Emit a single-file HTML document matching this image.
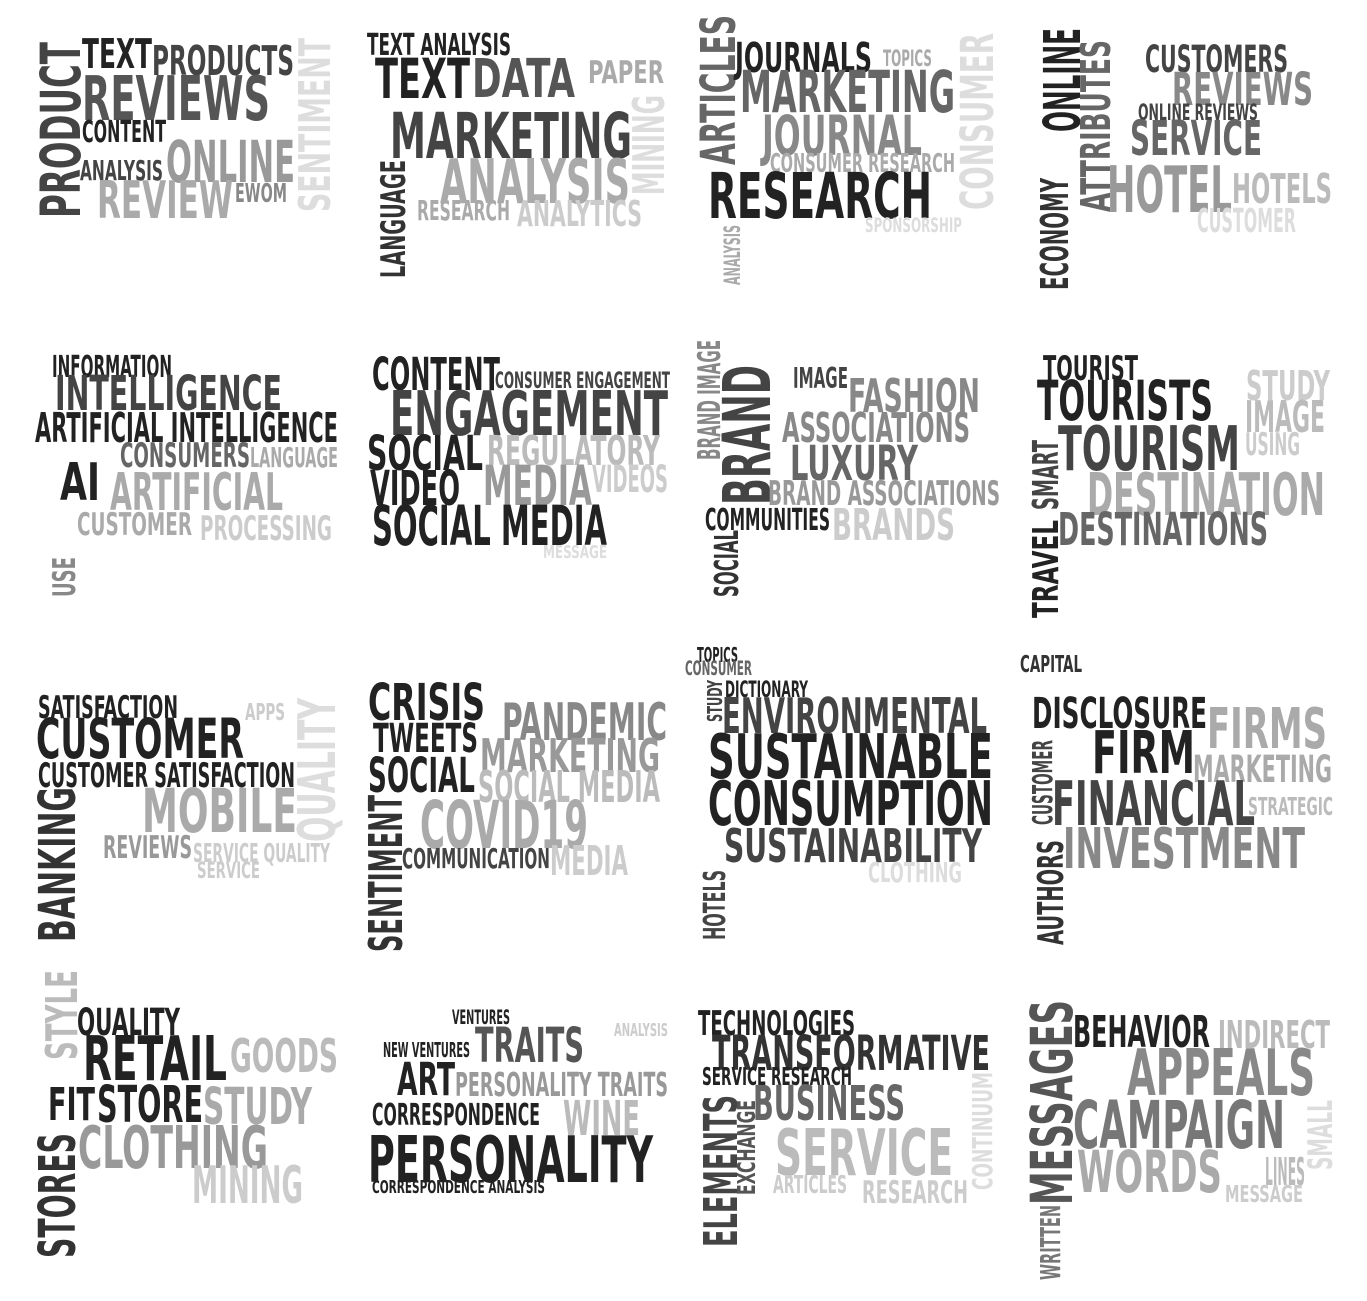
<!DOCTYPE html>
<html><head><meta charset="utf-8"><style>
html,body{margin:0;padding:0;background:#fff;}
#wc{position:absolute;left:0;top:0;}
text{font-family:"Liberation Sans Narrow","DejaVu Sans Condensed","Liberation Sans",sans-serif;font-weight:bold;}
</style></head><body>
<svg id="wc" width="1367" height="1301" viewBox="0 0 1367 1301" xmlns="http://www.w3.org/2000/svg"></svg>
<script>
// word, x1, x2, y1, y2, color, vertical
const words = [
["PRODUCT",40,80,42,218,"#444",1],["TEXT",82,152,38,68,"#222",0],["PRODUCTS",152,294,45,75,"#444",0],
["REVIEWS",82,270,75,120,"#555",0],["CONTENT",82,166,120,142,"#222",0],["ANALYSIS",80,163,160,180,"#444",0],
["ONLINE",166,295,140,182,"#999",0],["REVIEW",97,233,180,218,"#aaa",0],["EWOM",235,287,183,202,"#888",0],
["SENTIMENT",298,330,38,212,"#ddd",1],
["TEXT ANALYSIS",367,511,33,55,"#222",0],["TEXT",375,470,58,98,"#222",0],["DATA",472,575,58,97,"#555",0],
["PAPER",588,664,60,83,"#aaa",0],["MINING",632,664,95,195,"#ddd",1],["MARKETING",390,632,112,158,"#444",0],
["LANGUAGE",380,405,160,278,"#333",1],["ANALYSIS",440,630,158,203,"#aaa",0],["RESEARCH",417,510,200,220,"#aaa",0],
["ANALYTICS",517,642,200,226,"#ccc",0],
["ARTICLES",700,735,15,165,"#666",1],["JOURNALS",735,872,42,72,"#222",0],["TOPICS",883,932,50,66,"#aaa",0],
["CONSUMER",960,993,33,210,"#ddd",1],["MARKETING",740,955,70,112,"#666",0],["JOURNAL",762,922,115,155,"#888",0],
["CONSUMER RESEARCH",770,955,153,172,"#aaa",0],["RESEARCH",708,932,172,218,"#222",0],["SPONSORSHIP",865,962,218,232,"#ddd",0],
["ANALYSIS",724,740,225,285,"#aaa",1],
["ONLINE",1043,1080,28,132,"#222",1],["ATTRIBUTES",1080,1110,40,212,"#666",1],["CUSTOMERS",1145,1288,45,72,"#444",0],
["REVIEWS",1172,1313,72,105,"#888",0],["ONLINE REVIEWS",1138,1258,104,120,"#444",0],["SERVICE",1130,1262,120,155,"#666",0],
["ECONOMY",1040,1068,178,290,"#333",1],["HOTEL",1107,1232,165,212,"#999",0],["HOTELS",1232,1332,173,203,"#bbb",0],
["CUSTOMER",1197,1296,208,232,"#ddd",0],
["INFORMATION",52,172,355,377,"#222",0],["INTELLIGENCE",55,282,375,410,"#444",0],["ARTIFICIAL INTELLIGENCE",35,338,412,442,"#222",0],
["CONSUMERS",120,250,442,467,"#666",0],["LANGUAGE",250,338,447,467,"#aaa",0],["AI",60,100,462,500,"#222",0],
["ARTIFICIAL",110,283,472,510,"#aaa",0],["CUSTOMER",77,192,512,535,"#aaa",0],["PROCESSING",200,332,515,540,"#ccc",0],
["USE",52,75,557,597,"#888",1],
["CONTENT",372,500,357,390,"#222",0],["CONSUMER ENGAGEMENT",495,670,372,388,"#444",0],["ENGAGEMENT",390,668,390,435,"#444",0],
["SOCIAL",367,483,435,470,"#222",0],["REGULATORY",487,660,435,465,"#bbb",0],["VIDEO",370,460,470,505,"#222",0],
["MEDIA",483,592,465,505,"#999",0],["VIDEOS",592,668,465,492,"#ccc",0],["SOCIAL MEDIA",372,607,505,545,"#222",0],
["MESSAGE",543,607,545,558,"#ddd",0],
["BRAND IMAGE",697,720,340,460,"#888",1],["BRAND",722,770,365,505,"#444",1],["IMAGE",793,848,367,388,"#444",0],
["FASHION",848,980,378,412,"#888",0],["ASSOCIATIONS",782,970,412,442,"#888",0],["LUXURY",790,918,445,480,"#666",0],
["BRAND ASSOCIATIONS",768,1000,480,505,"#999",0],["COMMUNITIES",705,830,508,530,"#222",0],["BRANDS",832,955,508,540,"#ccc",0],
["SOCIAL",714,738,530,597,"#333",1],
["TOURIST",1043,1138,355,380,"#222",0],["TOURISTS",1037,1213,380,420,"#222",0],["STUDY",1246,1330,370,400,"#ccc",0],
["IMAGE",1245,1325,400,432,"#bbb",0],["TOURISM",1058,1240,425,470,"#444",0],["USING",1245,1300,432,455,"#ccc",0],
["SMART",1032,1058,440,510,"#444",1],["DESTINATION",1087,1325,472,515,"#aaa",0],["TRAVEL",1032,1058,520,618,"#222",1],
["DESTINATIONS",1058,1268,512,545,"#666",0],
["SATISFACTION",38,178,695,718,"#222",0],["APPS",245,285,703,720,"#ccc",0],["CUSTOMER",36,244,718,758,"#222",0],
["QUALITY",297,335,698,842,"#ddd",1],["CUSTOMER SATISFACTION",38,295,762,787,"#222",0],["BANKING",38,75,787,942,"#333",1],
["MOBILE",142,297,788,832,"#aaa",0],["REVIEWS",103,192,835,858,"#999",0],["SERVICE QUALITY",193,330,843,862,"#ccc",0],
["SERVICE",197,260,862,878,"#ccc",0],
["CRISIS",368,485,683,720,"#222",0],["PANDEMIC",502,667,702,740,"#888",0],["TWEETS",373,478,723,752,"#222",0],
["MARKETING",480,660,738,772,"#999",0],["SOCIAL",368,475,757,792,"#222",0],["SOCIAL MEDIA",478,660,770,802,"#bbb",0],
["SENTIMENT",368,402,795,952,"#333",1],["COVID19",420,588,800,848,"#aaa",0],["COMMUNICATION",402,550,848,868,"#444",0],
["MEDIA",550,628,845,875,"#ccc",0],
["TOPICS",697,738,647,662,"#222",0],["CONSUMER",685,752,661,675,"#666",0],["STUDY",707,722,680,722,"#444",1],
["DICTIONARY",725,808,681,697,"#222",0],["ENVIRONMENTAL",722,987,697,733,"#444",0],["SUSTAINABLE",708,993,733,778,"#222",0],
["CONSUMPTION",708,993,780,825,"#222",0],["SUSTAINABILITY",724,982,828,862,"#444",0],["CLOTHING",868,962,862,882,"#ddd",0],
["HOTELS",703,725,870,940,"#444",1],
["CAPITAL",1020,1082,655,672,"#333",0],["DISCLOSURE",1032,1207,697,728,"#222",0],["FIRMS",1207,1327,707,748,"#aaa",0],
["FIRM",1092,1195,730,773,"#222",0],["CUSTOMER",1032,1052,740,825,"#444",1],["MARKETING",1193,1332,755,782,"#aaa",0],
["FINANCIAL",1052,1255,780,825,"#444",0],["STRATEGIC",1248,1333,797,815,"#bbb",0],["AUTHORS",1037,1063,840,945,"#333",1],
["INVESTMENT",1063,1305,827,868,"#888",0],
["STYLE",45,77,970,1060,"#bbb",1],["QUALITY",77,180,1008,1035,"#222",0],["RETAIL",83,227,1035,1080,"#222",0],
["GOODS",230,338,1038,1072,"#bbb",0],["FIT",48,95,1087,1120,"#222",0],["STORE",97,203,1085,1122,"#222",0],
["STUDY",203,312,1087,1124,"#aaa",0],["STORES",38,75,1133,1258,"#333",1],["CLOTHING",78,268,1125,1168,"#999",0],
["MINING",192,303,1165,1203,"#ccc",0],
["VENTURES",452,510,1010,1024,"#222",0],["ANALYSIS",614,668,1023,1036,"#ccc",0],["NEW VENTURES",383,470,1042,1057,"#222",0],
["TRAITS",475,584,1027,1062,"#555",0],["ART",397,455,1062,1095,"#222",0],["PERSONALITY TRAITS",455,668,1072,1096,"#999",0],
["CORRESPONDENCE",372,540,1103,1125,"#222",0],["WINE",563,640,1100,1135,"#bbb",0],["PERSONALITY",368,653,1135,1182,"#222",0],
["CORRESPONDENCE ANALYSIS",372,545,1180,1193,"#222",0],
["TECHNOLOGIES",698,855,1010,1035,"#222",0],["TRANSFORMATIVE",712,990,1035,1070,"#333",0],["SERVICE RESEARCH",702,852,1067,1085,"#222",0],
["CONTINUUM",972,992,1072,1190,"#ddd",1],["BUSINESS",753,905,1085,1120,"#666",0],["ELEMENTS",703,737,1095,1247,"#444",1],
["EXCHANGE",737,755,1100,1195,"#555",1],["SERVICE",775,953,1128,1175,"#bbb",0],["ARTICLES",773,847,1175,1193,"#ccc",0],
["RESEARCH",862,968,1180,1203,"#ccc",0],
["MESSAGES",1030,1072,1000,1205,"#555",1],["BEHAVIOR",1073,1210,1015,1047,"#222",0],["INDIRECT",1218,1330,1020,1048,"#bbb",0],
["APPEALS",1127,1315,1048,1095,"#888",0],["SMALL",1307,1332,1100,1170,"#ddd",1],["CAMPAIGN",1073,1285,1100,1148,"#777",0],
["WORDS",1077,1222,1150,1192,"#aaa",0],["LINES",1265,1305,1157,1185,"#bbb",0],["MESSAGE",1225,1303,1185,1202,"#ccc",0],
["WRITTEN",1040,1060,1205,1280,"#777",1]
];
const NS="http://www.w3.org/2000/svg";
const svg=document.getElementById('wc');
const CAP=0.73;
words.forEach(w=>{
  const [s,x1,x2,y1,y2,c,v]=w;
  const t=document.createElementNS(NS,'text');
  t.textContent=s;
  t.setAttribute('fill',c);
  t.setAttribute('lengthAdjust','spacingAndGlyphs');
  if(!v){
    t.setAttribute('x',x1);t.setAttribute('y',y2);
    t.setAttribute('font-size',((y2-y1)/CAP).toFixed(1));
    t.setAttribute('textLength',x2-x1);
  }else{
    t.setAttribute('transform','translate('+x2+','+y2+') rotate(-90)');
    t.setAttribute('x',0);t.setAttribute('y',0);
    t.setAttribute('font-size',((x2-x1)/CAP).toFixed(1));
    t.setAttribute('textLength',y2-y1);
  }
  
  
  svg.appendChild(t);
});
</script>
</body></html>
